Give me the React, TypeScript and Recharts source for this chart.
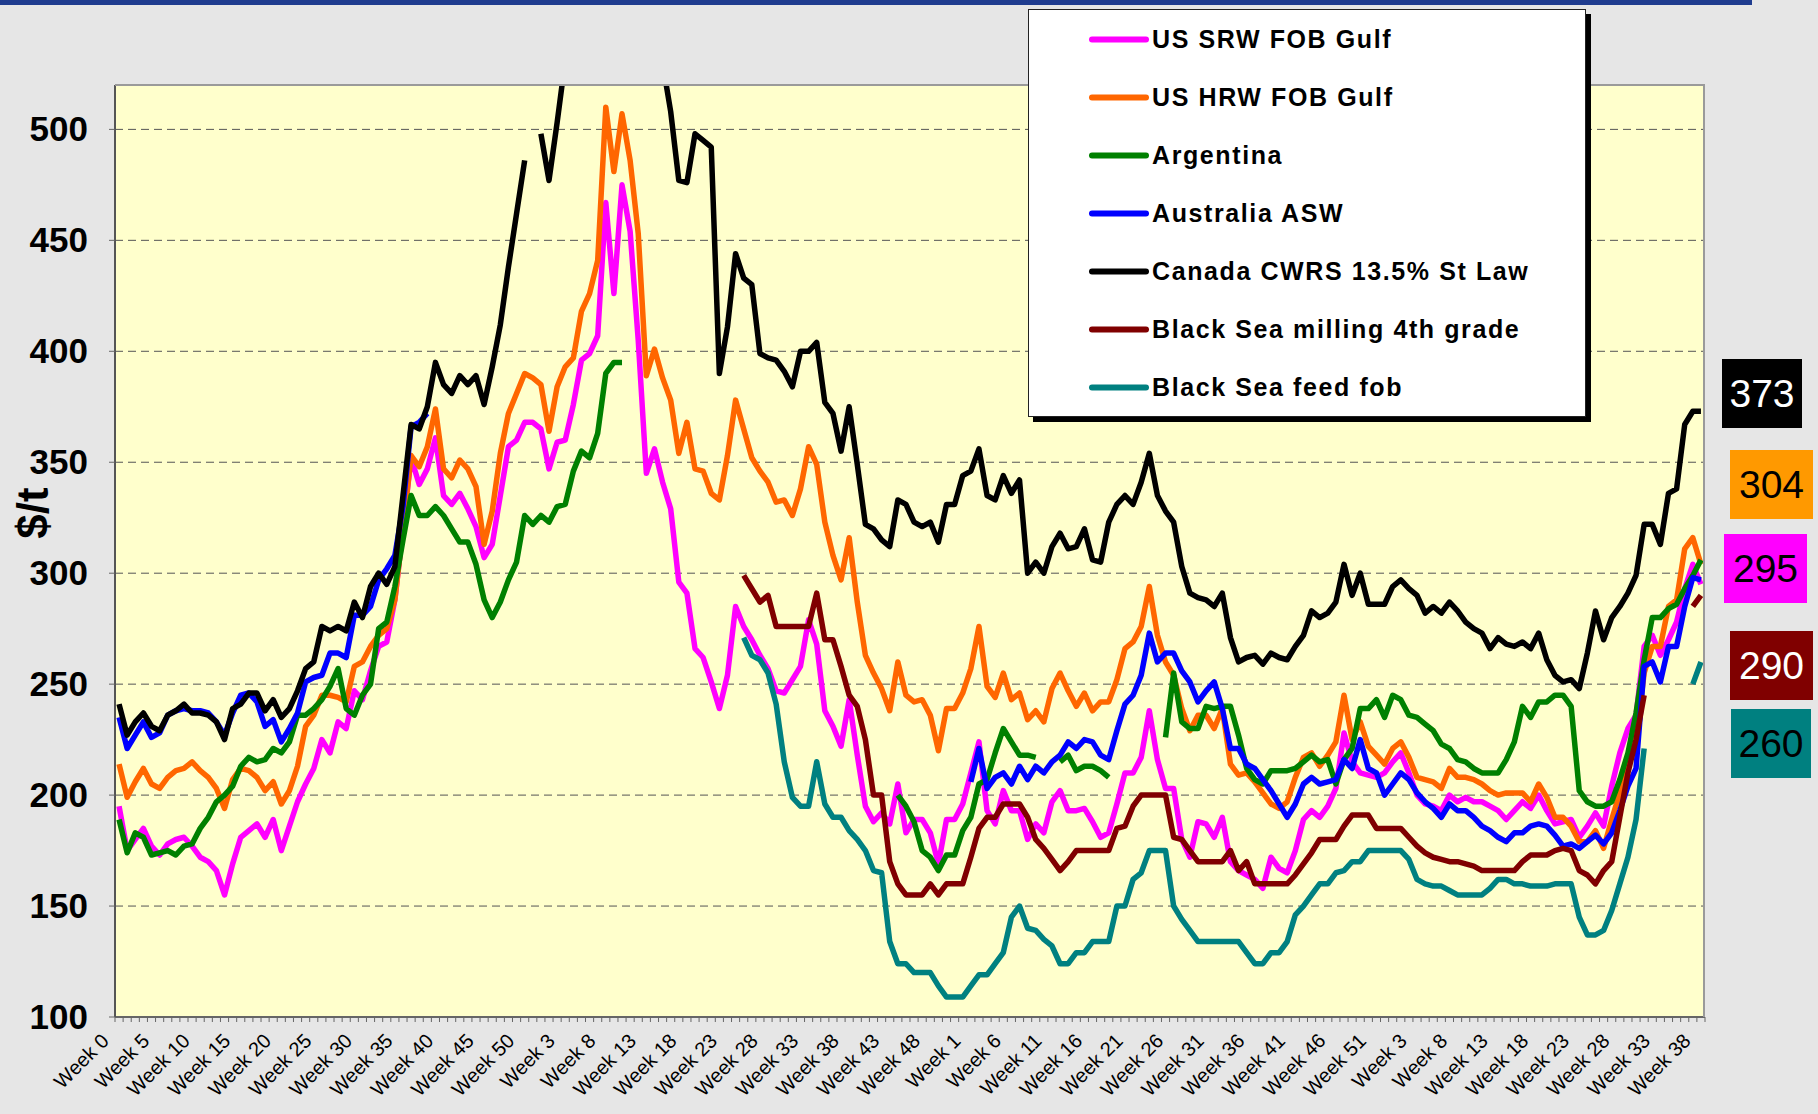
import React from 'react';
import { LineChart, Line, XAxis, YAxis, CartesianGrid } from 'recharts';

// Weekly wheat export prices, $/t. Four seasons of weeks on one category axis.
const weekRanges: [number, number][] = [[0, 52], [1, 52], [1, 53], [1, 38]];
const weekLabels: string[] = weekRanges.flatMap(([from, to]) =>
  Array.from({ length: to - from + 1 }, (_, k) => `Week ${from + k}`)
);

const none = (n: number): (number | null)[] => Array(n).fill(null);

const usSrw: (number | null)[] = [
  195, 175, 180, 185, 177, 173, 178, 180, 181, 177,
  172, 170, 166, 155, 169, 181, 184, 187, 181, 189,
  175, 186, 197, 205, 212, 225, 219, 233, 230, 247,
  243, 256, 267, 269, 288, 320, 352, 340, 347, 361,
  335, 331, 336, 329, 321, 307, 313, 335, 357, 360,
  368, 368, 365, 347, 359, 360, 376, 396, 399, 407,
  467, 426, 475, 454, 405, 345, 356, 341, 329, 296,
  291, 266, 262, 251, 239, 254, 285, 276, 270, 263,
  257, 247, 246, 252, 258, 279, 268, 238, 231, 222,
  243, 218, 195, 188, 192, 187, 205, 183, 189, 189,
  183, 169, 189, 189, 196, 210, 224, 193, 187, 202,
  193, 193, 180, 187, 183, 197, 202, 193, 193, 194,
  188, 181, 183, 196, 210, 210, 217, 238, 216, 203,
  203, 180, 172, 188, 187, 181, 190, 170, 166, 164,
  162, 158, 172, 167, 165, 175, 189, 193, 190, 195,
  203, 228, 215, 210, 209, 208, 210, 215, 219, 210,
  200, 196, 195, 193, 200, 197, 199, 197, 197, 195,
  193, 189, 193, 197, 194, 200, 193, 187, 188, 189,
  181, 186, 192, 186, 204, 219, 230, 236, 267, 272,
  263, 270, 278, 293, 304, 295,
];

const usHrw: (number | null)[] = [
  214, 199, 206, 212, 205, 203, 208, 211, 212, 215,
  211, 208, 203, 194, 207, 212, 211, 208, 202, 206,
  196, 202, 213, 231, 236, 245, 245, 244, 242, 258,
  260, 267, 272, 275, 288, 320, 353, 348, 357, 374,
  347, 343, 351, 347, 339, 313, 328, 354, 372, 381,
  390, 388, 385, 364, 384, 393, 397, 418, 426, 441,
  510, 481, 507, 486, 453, 389, 401, 388, 378, 354,
  368, 347, 346, 336, 333, 353, 378, 365, 352, 346,
  341, 332, 333, 326, 338, 357, 349, 323, 308, 297,
  316, 287, 263, 255, 248, 238, 260, 245, 242, 243,
  236, 220, 239, 239, 246, 257, 276, 249, 244, 255,
  243, 246, 234, 238, 233, 248, 255, 247, 240, 246,
  238, 242, 242, 252, 266, 269, 276, 294, 272, 260,
  254, 239, 229, 236, 236, 230, 239, 214, 209, 210,
  206, 201, 196, 194, 197, 208, 217, 219, 213, 218,
  224, 245, 225, 233, 222, 218, 214, 221, 224, 217,
  208, 207, 206, 203, 212, 208, 208, 207, 205, 202,
  200, 201, 201, 201, 197, 205, 199, 190, 190, 186,
  179, 179, 184, 176, 189, 201, 212, 225, 255, 267,
  267, 285, 288, 311, 316, 304,
];

const argentina: (number | null)[] = [
  189, 174, 183, 181, 173, 174, 175, 173, 177, 178,
  185, 190, 197, 200, 204, 213, 217, 215, 216, 221,
  219, 224, 236, 236, 239, 243, 249, 257, 239, 236,
  245, 250, 275, 278, 294, 315, 335, 326, 326, 330,
  326, 320, 314, 314, 304, 288, 280, 287, 297, 305,
  326, 322, 326, 323, 330, 331, 346, 355, 352, 363,
  390, 395, 395,
  ...none(33),
  200, 195, 188, 175,
  172, 166, 173, 173, 184, 190, 205, 207, 219, 230,
  224, 218, 218, 217, null, null, 215, 218, 211, 213,
  213, 211, 208, null, null, null, null, null, null, 226,
  255, 233, 230, 230, 240, 239, 240, 240, 227, 212,
  207, 205, 211, 211, 211, 212, 215, 218, 215, 216,
  205, 216, 221, 239, 239, 243, 235, 245, 243, 236,
  235, 232, 229, 223, 221, 216, 215, 212, 210, 210,
  210, 216, 224, 240, 235, 242, 242, 245, 245, 240,
  202, 197, 195, 195, 197, 207, 219, 237, 261, 280,
  280, 284, 286, 293, 299, 306,
];

const australia: (number | null)[] = [
  235, 221, 227, 233, 226, 228, 236, 238, 239, 238,
  238, 237, 233, 227, 237, 245, 246, 242, 231, 234,
  224, 230, 237, 251, 253, 254, 264, 264, 262, 281,
  281, 285, 297, 302, 308, 330, 366, 368, 372,
  ...none(66),
  206, 221, 203, 208, 210,
  205, 213, 207, 213, 210, 215, 218, 224, 221, 225,
  224, 218, 216, 229, 241, 245, 254, 273, 260, 264,
  264, 256, 251, 242, 247, 251, 239, 221, 221, 214,
  212, 207, 202, 196, 190, 196, 205, 208, 205, 206,
  207, 216, 212, 225, 212, 210, 200, 205, 210, 207,
  201, 197, 194, 190, 196, 193, 193, 190, 186, 184,
  181, 179, 183, 183, 186, 187, 186, 182, 177, 178,
  176, 179, 182, 178, 183, 193, 204, 212, 258, 260,
  251, 267, 267, 285, 298, 297,
];

// runs above the 520 top of the plot around weeks 3-16 of the second season
const canadaCwrs: (number | null)[] = [
  241, 227, 233, 237, 231, 229, 236, 238, 241, 237,
  237, 236, 233, 225, 239, 241, 246, 246, 238, 243,
  235, 239, 247, 257, 260, 276, 274, 276, 274, 287,
  280, 294, 300, 295, 303, 335, 367, 365, 375, 395,
  385, 381, 389, 385, 389, 376, 393, 412, 438, 462,
  486, null, 498, 477, 503, 531, 550, 565, 580, 590,
  600, 600, 595, 585, 570, 560, 545, 530, 508, 477,
  476, 498, 495, 492, 390, 411, 444, 433, 430, 399,
  397, 396, 391, 384, 400, 400, 404, 377, 372, 355,
  375, 349, 322, 320, 315, 312, 333, 331, 323, 321,
  323, 314, 331, 331, 344, 346, 356, 335, 333, 344,
  336, 342, 300, 305, 300, 312, 318, 311, 312, 320,
  306, 305, 323, 331, 335, 331, 341, 354, 335, 328,
  323, 303, 291, 289, 288, 285, 291, 271, 260, 262,
  263, 259, 264, 262, 261, 267, 272, 283, 280, 282,
  287, 304, 290, 300, 286, 286, 286, 294, 297, 293,
  290, 282, 285, 282, 287, 283, 278, 275, 273, 266,
  271, 268, 267, 269, 266, 273, 261, 254, 251, 252,
  248, 264, 283, 270, 280, 285, 291, 299, 322, 322,
  313, 336, 338, 367, 373, 373,
];

const blackSeaMilling: (number | null)[] = [
  ...none(77),
  299, 293, 287,
  290, 276, 276, 276, 276, 276, 291, 270, 270, 258,
  245, 240, 225, 200, 200, 170, 160, 155, 155, 155,
  160, 155, 160, 160, 160, 172, 185, 190, 190, 196,
  196, 196, 190, 180, 176, 171, 166, 170, 175, 175,
  175, 175, 175, 185, 186, 195, 200, 200, 200, 200,
  181, 180, 175, 170, 170, 170, 170, 175, 166, 170,
  160, 160, 160, 160, 160, 164, 169, 174, 180, 180,
  180, 186, 191, 191, 191, 185, 185, 185, 185, 181,
  177, 174, 172, 171, 170, 170, 169, 168, 166, 166,
  166, 166, 166, 170, 173, 173, 173, 175, 176, 175,
  166, 164, 160, 166, 170, 190, 210, 225, 245, null,
  null, null, null, null, 285, 290,
];

const blackSeaFeed: (number | null)[] = [
  ...none(77),
  271, 263, 261,
  255, 241, 215, 199, 195, 195, 215, 196, 190, 190,
  184, 180, 175, 166, 165, 134, 124, 124, 120, 120,
  120, 114, 109, 109, 109, 114, 119, 119, 124, 129,
  145, 150, 140, 139, 135, 132, 124, 124, 129, 129,
  134, 134, 134, 150, 150, 162, 165, 175, 175, 175,
  150, 144, 139, 134, 134, 134, 134, 134, 134, 129,
  124, 124, 129, 129, 134, 146, 150, 155, 160, 160,
  165, 166, 170, 170, 175, 175, 175, 175, 175, 171,
  162, 160, 159, 159, 157, 155, 155, 155, 155, 158,
  162, 162, 160, 160, 159, 159, 159, 160, 160, 160,
  145, 137, 137, 139, 148, 160, 172, 189, 221, null,
  null, null, null, null, 250, 260,
];

const yTicks = [100, 150, 200, 250, 300, 350, 400, 450, 500];

const series = [
  { key: 'srw', name: 'US SRW FOB Gulf', color: '#FF00FF', values: usSrw },
  { key: 'hrw', name: 'US HRW FOB Gulf', color: '#FF6600', values: usHrw },
  { key: 'arg', name: 'Argentina', color: '#008000', values: argentina },
  { key: 'asw', name: 'Australia ASW', color: '#0000FF', values: australia },
  { key: 'cwrs', name: 'Canada CWRS 13.5% St Law', color: '#000000', values: canadaCwrs },
  { key: 'bsm', name: 'Black Sea milling 4th grade', color: '#800000', values: blackSeaMilling },
  { key: 'bsf', name: 'Black Sea feed fob', color: '#008080', values: blackSeaFeed },
];

const data = weekLabels.map((week, i) => {
  const row: Record<string, string | number | null> = { week };
  series.forEach((s) => {
    row[s.key] = s.values[i] ?? null;
  });
  return row;
});

// latest-price tags on the right
const tags = [
  { key: 'cwrs', left: 1722, top: 359, width: 80, bg: '#000000', fg: '#FFFFFF' },
  { key: 'hrw', left: 1730, top: 450, width: 83, bg: '#FF9900', fg: '#000000' },
  { key: 'srw', left: 1724, top: 534, width: 83, bg: '#FF00FF', fg: '#000000' },
  { key: 'bsm', left: 1730, top: 631, width: 83, bg: '#800000', fg: '#FFFFFF' },
  { key: 'bsf', left: 1731, top: 709, width: 80, bg: '#008080', fg: '#000000' },
];

const FONT = '"Liberation Sans", Arial, sans-serif';
const AXIS_Y = 1017;
const HALF_STEP = 4.06;

function WeekTick(props: any) {
  const { x, payload, index } = props;
  const tx = x - 9;
  const ty = AXIS_Y + 25;
  return (
    <g>
      <line x1={x - HALF_STEP} x2={x - HALF_STEP} y1={AXIS_Y} y2={AXIS_Y + 5} stroke="#666" />
      {index === weekLabels.length - 1 && (
        <line x1={x + HALF_STEP} x2={x + HALF_STEP} y1={AXIS_Y} y2={AXIS_Y + 5} stroke="#666" />
      )}
      {index % 5 === 0 && (
        <text
          x={tx}
          y={ty}
          transform={`rotate(-45 ${tx} ${ty})`}
          textAnchor="end"
          fontSize={20}
          fontFamily={FONT}
          fill="#000"
        >
          {payload.value}
        </text>
      )}
    </g>
  );
}

function ValueTick(props: any) {
  const { y, payload } = props;
  return (
    <text x={88} y={y} dy={12} textAnchor="end" fontSize={35} fontWeight="bold" fontFamily={FONT} fill="#000">
      {payload.value}
    </text>
  );
}

export default function App() {
  return (
    <div
      style={{
        position: 'absolute',
        left: 0,
        top: 0,
        width: 1818,
        height: 1114,
        background: '#E6E6E6',
        overflow: 'hidden',
        fontFamily: FONT,
      }}
    >
      <div style={{ position: 'absolute', left: 0, top: 0, width: 1752, height: 5, background: '#1F3C8F' }} />
      <LineChart width={1818} height={1114} data={data} margin={{ top: 85, right: 113, bottom: 7, left: 0 }}>
        <CartesianGrid vertical={false} stroke="#555" strokeDasharray="8 5" fill="#FFFFCC" />
        <XAxis
          dataKey="week"
          interval={0}
          height={90}
          padding={{ left: HALF_STEP, right: HALF_STEP }}
          tick={(p: any) => <WeekTick {...p} />}
          tickLine={false}
          axisLine={{ stroke: '#666', strokeWidth: 2 }}
        />
        <YAxis
          domain={[100, 520]}
          ticks={yTicks}
          allowDataOverflow
          width={115}
          tick={(p: any) => <ValueTick {...p} />}
          tickSize={6}
          tickLine={{ stroke: '#666' }}
          axisLine={{ stroke: '#555', strokeWidth: 2 }}
        />
        {series.map((s) => (
          <Line
            key={s.key}
            dataKey={s.key}
            name={s.name}
            stroke={s.color}
            strokeWidth={5.5}
            strokeLinejoin="round"
            dot={false}
            activeDot={false}
            isAnimationActive={false}
          />
        ))}
      </LineChart>

      {/* plot frame */}
      <div
        style={{
          position: 'absolute',
          left: 115,
          top: 84,
          width: 1590,
          height: 933,
          borderTop: '2px solid #9A9A9A',
          borderRight: '2px solid #9A9A9A',
          boxSizing: 'border-box',
          pointerEvents: 'none',
        }}
      />

      <div
        style={{
          position: 'absolute',
          left: 33,
          top: 513,
          transform: 'translate(-50%, -50%) rotate(-90deg)',
          fontSize: 44,
          fontWeight: 'bold',
          whiteSpace: 'nowrap',
        }}
      >
        $/t
      </div>

      {/* legend */}
      <div
        style={{
          position: 'absolute',
          left: 1028,
          top: 9,
          width: 558,
          height: 408,
          background: '#FFFFFF',
          border: '1px solid #222',
          boxShadow: '5px 5px 0 #000',
          boxSizing: 'border-box',
        }}
      >
        {series.map((s, i) => (
          <div
            key={s.key}
            style={{ position: 'absolute', left: 60, top: 29 + i * 58, display: 'flex', alignItems: 'center', transform: 'translateY(-50%)' }}
          >
            <div style={{ width: 60, height: 6, borderRadius: 3, background: s.color, marginRight: 3 }} />
            <span style={{ fontSize: 25, fontWeight: 'bold', letterSpacing: 1.6, whiteSpace: 'nowrap' }}>{s.name}</span>
          </div>
        ))}
      </div>

      {tags.map((t) => {
        const s = series.find((x) => x.key === t.key)!;
        const last = s.values[s.values.length - 1];
        return (
          <div
            key={t.key}
            style={{
              position: 'absolute',
              left: t.left,
              top: t.top,
              width: t.width,
              height: 69,
              background: t.bg,
              color: t.fg,
              fontSize: 39,
              lineHeight: '69px',
              textAlign: 'center',
            }}
          >
            {last}
          </div>
        );
      })}
    </div>
  );
}
